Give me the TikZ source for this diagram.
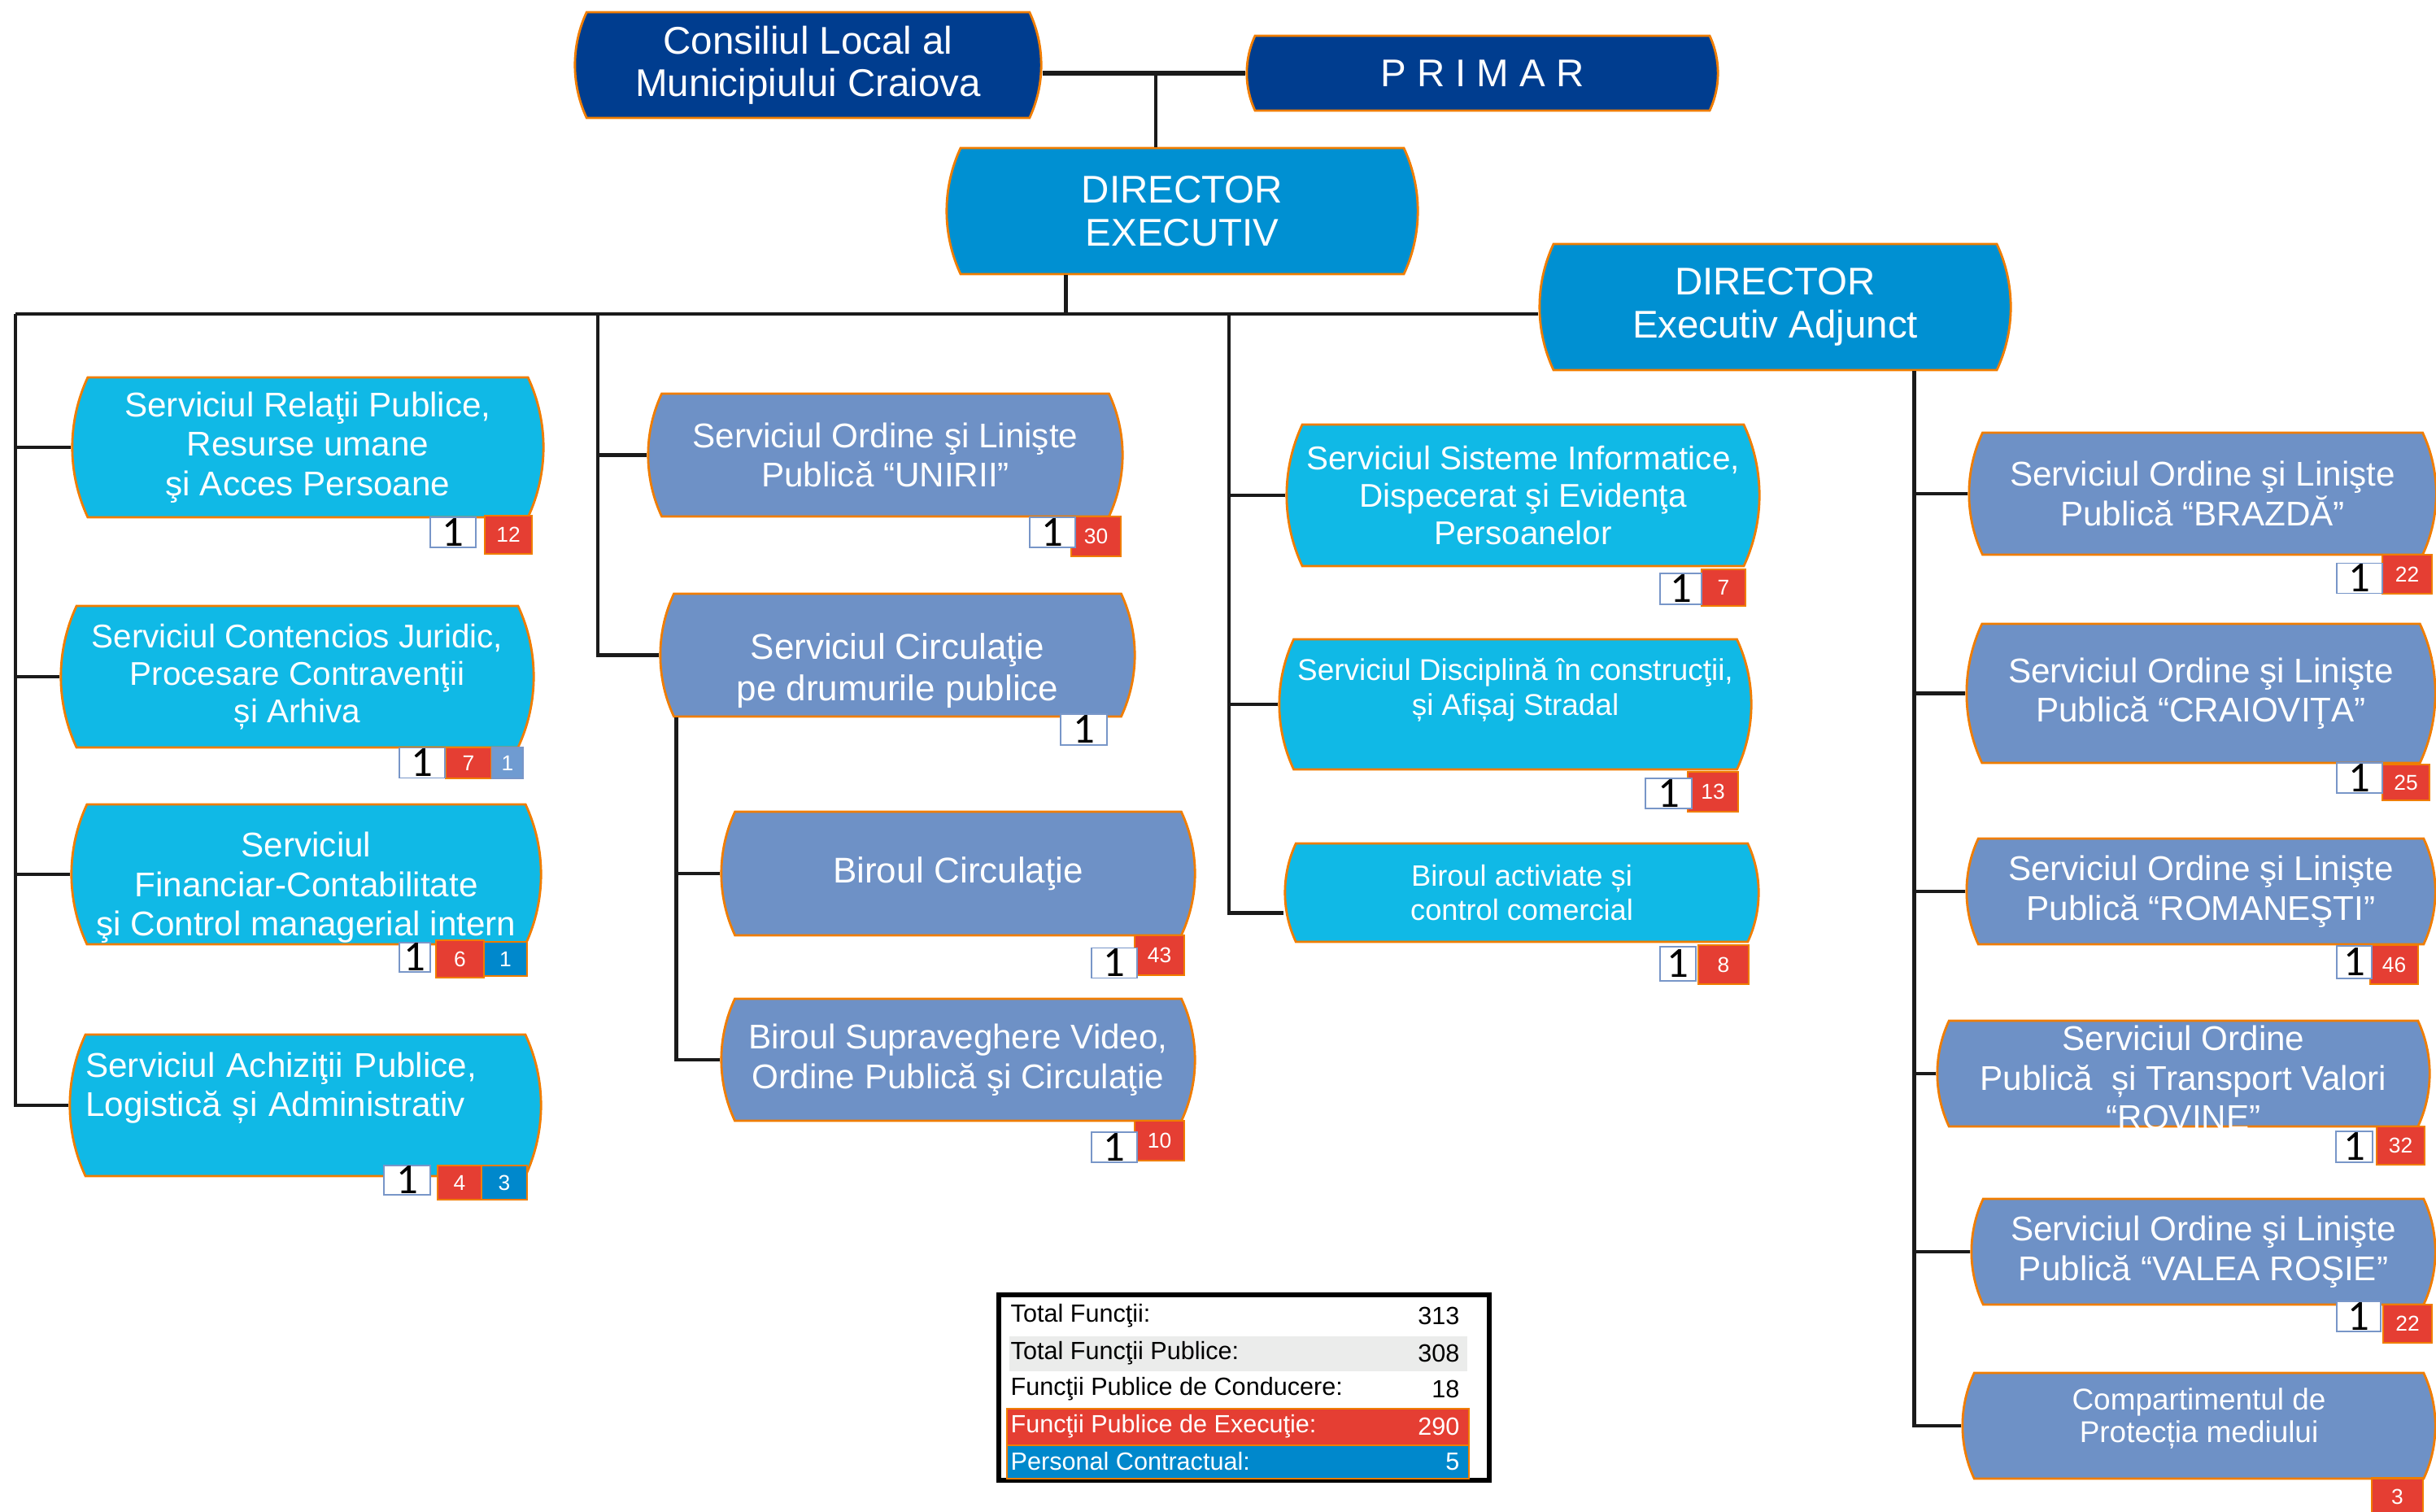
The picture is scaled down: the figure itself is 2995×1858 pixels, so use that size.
\documentclass[tikz,border=0pt]{standalone}
\usepackage{fontspec}
\setsansfont{Liberation Sans}
\newfontfamily\unufont{Carlito}
\usetikzlibrary{shapes.misc,calc}
\definecolor{cDark}{RGB}{0,61,143}
\definecolor{cMid}{RGB}{0,144,210}
\definecolor{cCyan}{RGB}{16,185,230}
\definecolor{cSlate}{RGB}{110,145,198}
\definecolor{cRed}{RGB}{229,62,51}
\definecolor{cOrange}{RGB}{240,125,0}
\definecolor{cBlue}{RGB}{0,136,204}
\definecolor{cLight}{RGB}{111,155,209}
\definecolor{cGray}{RGB}{235,236,235}
\definecolor{cFrame}{RGB}{120,150,200}
\definecolor{cLine}{RGB}{26,26,26}
\tikzset{box/.style 2 args={minimum width=#1cm,minimum height=#2cm},
	 fs/.style 2 args={font=\sffamily\fontsize{#1pt}{#2pt}\selectfont},
	 txt/.style={text=white,align=center,inner sep=0pt,fs={12}{13.8}},
	 unit/.style={rounded rectangle,rounded rectangle arc length=50,draw=cOrange,line width=0.8pt,txt},
	 top/.style={unit,fill=cDark,fs={13.5}{14.8}},
	 dir/.style={unit,fill=cMid,fs={13.5}{15.2}},
	 serv/.style={unit,fill=cCyan},
	 ord/.style={unit,fill=cSlate},
	 cond/.style={draw=cFrame,line width=0.4pt,fill=white,inner sep=0pt,box={0.56}{0.37},font=\unufont\fontsize{15pt}{15pt}\selectfont},
	 exec/.style={fill=cRed,draw=cOrange,line width=0.6pt,text=white,inner sep=0pt,box={0.58}{0.46},fs={7.5}{8}},
	 contr/.style={exec,fill=cBlue},
	 link/.style={draw=cLine,line width=1.4pt},
	 tlab/.style={anchor=west,inner sep=0pt,fs={8.7}{10}},
	 tval/.style={anchor=east,inner sep=0pt,fs={8.7}{10}}
	 }

\begin{document}
\begin{tikzpicture}[x=0.01cm,y=-0.01cm]
	\useasboundingbox (0,0) rectangle (2995,1858);
	% conducere
	\node[top,box={5.73}{1.30}] (cl) at (993.5,80) {Consiliul Local al\\Municipiului Craiova};
	\node[top,box={5.79}{0.92}] (pr) at (1822.5,90) {P R I M A R};
	\node[dir,box={5.79}{1.55}] (de) at (1453.5,259.5) {DIRECTOR\\EXECUTIV};
	\node[dir,box={5.79}{1.55}] (dea) at (2182.5,377.5) {DIRECTOR\\Executiv Adjunct};
	% coloana A
	\node[serv,box={5.79}{1.72}] (a1) at (378.5,550) {Serviciul Relaţii Publice,\\Resurse umane\\şi Acces Persoane};
	\node[serv,box={5.81}{1.74},fs={11.5}{13}] (a2) at (365.5,832) {Serviciul Contencios Juridic,\\Procesare Contravenţii\\și Arhiva};
	\node[serv,box={5.77}{1.72}] (a3) at (376.5,1075) {\rule{0pt}{18pt}Serviciul\\Financiar-Contabilitate\\şi Control managerial intern};
	\node[serv,box={5.79}{1.74},text width=5.4cm,align=left] (a4) at (375.5,1359) {Serviciul Achiziţii Publice,\\Logistică și Administrativ\\[1pt]\mbox{}};
	% coloana B
	\node[ord,box={5.83}{1.51}] (b1) at (1088.5,559.5) {Serviciul Ordine şi Linişte\\Publică “UNIRII”};
	\node[ord,box={5.83}{1.51},fs={12.5}{14.4}] (b2) at (1103.5,805.5) {\rule{0pt}{20pt}Serviciul Circulaţie\\pe drumurile publice};
	\node[ord,box={5.82}{1.52},fs={12.5}{14.4}] (b3) at (1178,1074) {Biroul Circulaţie};
	\node[ord,box={5.82}{1.50}] (b4) at (1178,1303) {Biroul Supraveghere Video,\\Ordine Publică şi Circulaţie};
	% coloana C
	\node[serv,box={5.81}{1.74},fs={11.5}{13.2}] (c1) at (1872.5,609) {Serviciul Sisteme Informatice,\\Dispecerat şi Evidenţa\\Persoanelor};
	\node[serv,box={5.80}{1.60},fs={10.5}{12.2}] (c2) at (1863,866) {Serviciul Disciplină în construcţii,\\și Afișaj Stradal\\\mbox{}};
	\node[serv,box={5.82}{1.21},fs={10.3}{12.2}] (c3) at (1871,1097.5) {Biroul activiate și\\control comercial};
	% coloana D
	\node[ord,box={5.74}{1.50}] (d1) at (2708,607) {Serviciul Ordine şi Linişte\\Publică “BRAZDĂ”};
	\node[ord,box={5.76}{1.71}] (d2) at (2706,852.5) {Serviciul Ordine şi Linişte\\Publică “CRAIOVIŢA”};
	\node[ord,box={5.76}{1.30}] (d3) at (2706,1096) {Serviciul Ordine şi Linişte\\Publică “ROMANEŞTI”};
	\node[ord,box={6.05}{1.30}] (d4) at (2684.5,1320) {};
	\node[txt] (d4t) at ([yshift=-0.05cm]d4.center) {Serviciul Ordine\\Publică \ și Transport Valori\\“ROVINE”};
	\node[ord,box={5.70}{1.30}] (d5) at (2709,1539) {Serviciul Ordine şi Linişte\\Publică “VALEA ROŞIE”};
	\node[ord,box={5.81}{1.30},fs={10.5}{11.4}] (d6) at (2703.5,1753) {Compartimentul de\\Protecția mediului\\[-4pt]\mbox{}};

	% legaturi
	\draw[link,line width=1.8pt] (cl.east |- pr.west) -- (pr.west);
	\coordinate (pj) at (1421,90);
	\draw[link,line width=1.2pt] (pj) -- (pj |- de.north);
	\coordinate (busL) at (19,386);
	\draw[link] ([xshift=-1.43cm]de.south) -- ([xshift=-1.43cm]de.south |- busL);
	\draw[link] (busL) -- (dea.west |- busL);
	\draw[link] (busL) |- (a4.west);
	\foreach \n in {a1,a2,a3} \draw[link] (busL |- \n.west) -- (\n.west);
	\coordinate (busB) at (735,386);
	\draw[link] (busB) |- (b2.west);
	\draw[link] (busB |- b1.west) -- (b1.west);
	\coordinate (subB) at ([xshift=-2.72cm]b2.south);
	\draw[link] (subB) |- (b4.west);
	\draw[link] (subB |- b3.west) -- (b3.west);
	\coordinate (busC) at (1511,386);
	\draw[link] (busC) |- ([yshift=-0.25cm]c3.west);
	\foreach \n in {c1,c2} \draw[link] (busC |- \n.west) -- (\n.west);
	\coordinate (subD) at ([xshift=1.71cm]dea.south);
	\draw[link] (subD) |- (d6.west);
	\foreach \n in {d1,d2,d3,d4,d5} \draw[link] (subD |- \n.west) -- (\n.west);

	% numar posturi
	\node[exec,box={0.58}{0.47}] (a1e) at (625,657.5) {12};
	\node[cond] (a1c) at (557,654.5) {1};
	\node[exec,box={0.56}{0.38}] (a2e) at (576,938) {7};
	\node[contr,fill=cLight,draw=cFrame,box={0.38}{0.38}] (a2p) at (624,938) {1};
	\node[cond] (a2c) at (519,938) {1};
	\node[exec,box={0.59}{0.46}] (a3e) at (565.5,1179) {6};
	\node[contr,box={0.53}{0.42}] (a3p) at (621.5,1179) {1};
	\node[cond,box={0.38}{0.36}] (a3c) at (510,1177) {1};
	\node[exec,box={0.54}{0.42}] (a4e) at (565,1454) {4};
	\node[contr,box={0.56}{0.42}] (a4p) at (620,1454) {3};
	\node[cond,box={0.57}{0.36}] (a4c) at (500.5,1451) {1};
	\node[exec,box={0.61}{0.49}] (b1e) at (1347.5,659.5) {30};
	\node[cond] (b1c) at (1294,654.5) {1};
	\node[cond,box={0.57}{0.38}] (b2c) at (1332.5,897) {1};
	\node[exec,box={0.61}{0.49}] (b3e) at (1425.5,1174.5) {43};
	\node[cond] (b3c) at (1370,1184) {1};
	\node[exec,box={0.61}{0.49}] (b4e) at (1425.5,1402.5) {10};
	\node[cond] (b4c) at (1370,1410.5) {1};
	\node[exec,box={0.54}{0.45}] (c1e) at (2119,722.5) {7};
	\node[cond,box={0.51}{0.38}] (c1c) at (2066.5,724) {1};
	\node[exec,box={0.62}{0.49}] (c2e) at (2106,973.5) {13};
	\node[cond,box={0.57}{0.37}] (c2c) at (2051.5,975.5) {1};
	\node[exec,box={0.62}{0.48}] (c3e) at (2119,1186) {8};
	\node[cond,box={0.44}{0.42}] (c3c) at (2063,1185) {1};
	\node[exec,box={0.61}{0.48}] (d1e) at (2959.5,706) {22};
	\node[cond] (d1c) at (2901,711) {1};
	\node[exec,box={0.58}{0.44}] (d2e) at (2958,962) {25};
	\node[cond] (d2c) at (2901,956.5) {1};
	\node[exec,box={0.59}{0.48}] (d3e) at (2943.5,1186) {46};
	\node[cond,box={0.43}{0.40}] (d3c) at (2894.5,1183) {1};
	\node[exec,box={0.59}{0.47}] (d4e) at (2951.5,1408.5) {32};
	\node[cond,box={0.45}{0.38}] (d4c) at (2894.5,1410) {1};
	\node[exec,box={0.60}{0.47}] (d5e) at (2960,1627.5) {22};
	\node[cond,box={0.54}{0.37}] (d5c) at (2900,1618.5) {1};
	\node[exec,box={0.63}{0.45}] (d6e) at (2947.5,1840) {3};

	% total
	\draw[line width=1.7pt,fill=white] (1228,1592) rectangle (1831,1820);
	\fill[cGray] (1241,1643) rectangle (1804,1686);
	\draw[fill=cRed,draw=cOrange,line width=0.6pt] (1238,1732) rectangle (1806,1777);
	\draw[fill=cBlue,draw=cOrange,line width=0.6pt] (1238,1777) rectangle (1806,1818);
	\foreach \y/\lab/\val/\col in {1618/Total Funcţii:/313/black,1664/Total Funcţii Publice:/308/black,1708/Funcţii Publice de Conducere:/18/black,1754/Funcţii Publice de Execuţie:/290/white,1797/Personal Contractual:/5/white} {
		\node[tlab,text=\col] (l\val) at (1242,\y) {\lab};
		\node[tval,text=\col] (v\val) at (1795,\y) {\val};
	}
\end{tikzpicture}
\end{document}
